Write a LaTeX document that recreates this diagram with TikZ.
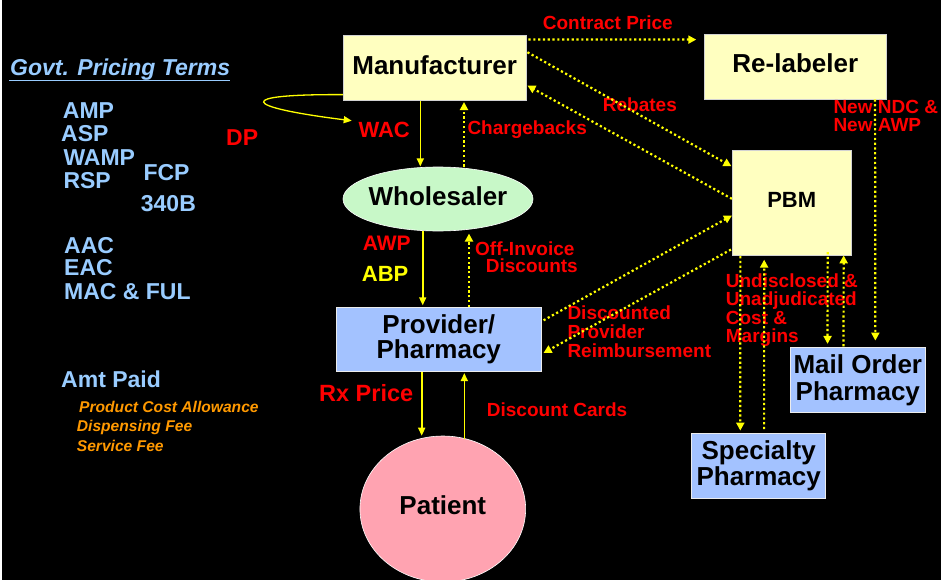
\documentclass[tikz,border=0pt]{standalone}
\usepackage{fontspec}
\setmainfont{Liberation Sans}
\usetikzlibrary{arrows.meta,calc,shapes.geometric}
\definecolor{boxyellow}{HTML}{FFFFC0}
\definecolor{whlgreen}{HTML}{C8F8C8}
\definecolor{provblue}{HTML}{A3C2FF}
\definecolor{patpink}{HTML}{FFA3B1}
\definecolor{termblue}{HTML}{99CCFF}
\definecolor{feeorange}{HTML}{FF9900}
\definecolor{flowyellow}{HTML}{FFFF00}
\definecolor{flowred}{HTML}{FF0000}
\begin{document}
\begin{tikzpicture}[x=1pt,y=-1pt,
  fs/.style={font=\fontsize{#1}{#1}\selectfont\bfseries},
  fsi/.style={font=\fontsize{#1}{#1}\selectfont\bfseries\itshape},
  box/.style={draw=gray!35, line width=0.8pt, fill=boxyellow, inner sep=0pt, align=center},
  bluebox/.style={box, fill=provblue, draw=white!85!gray},
  lbl/.style={anchor=base west, inner sep=0pt},
  mlbl/.style={anchor=north west, inner sep=0pt, align=left},
  term/.style={lbl, fs=23, text=termblue},
  redlbl/.style={lbl, fs=19, text=flowred},
  fee/.style={lbl, fsi=15.6, text=feeorange},
  flow/.style={draw=flowyellow, line width=1.6pt, -{Triangle[length=8pt,width=7pt]}},
  dotflow/.style={draw=flowyellow, line width=2.2pt, dash pattern=on 2.2pt off 2.6pt,
                  -{Triangle[length=8pt,width=8pt]}},
]
\useasboundingbox (0,0) rectangle (941,580);
\fill[white] (0,0) rectangle (2,580);
\fill[black] (2,0) rectangle (941,580);

% ---- left column: pricing terms ----
\node[lbl, fsi=23, text=termblue] (govt) at (10,76) {Govt. Pricing Terms};
\draw[termblue, line width=1.6pt] ($(govt.base west)+(-1,4.5)$) -- ($(govt.base east)+(0,4.5)$);
\node[term] (amp)  at (62.7,118.3) {AMP};
\node[term] (asp)  at (61,141.7)   {ASP};
\node[term] (wamp) at (63.3,165)   {WAMP};
\node[term] (rsp)  at (63.3,188.3) {RSP};
\node[term] (fcp)  at (143.3,180.7) {FCP};
\node[term] (b340) at (140.7,211.7) {340B};
\node[term] (aac)  at (64,253.3) {AAC};
\node[term] (eac)  at (64,275.7) {EAC};
\node[term] (macful) at (64,299) {MAC \& FUL};
\node[term] (amt)  at (61,387.3) {Amt Paid};
\node[fee] (pca)  at (79,412.7)   {Product Cost Allowance};
\node[fee] (disp) at (76.7,431.7) {Dispensing Fee};
\node[fee] (serv) at (76.7,451)   {Service Fee};

% ---- entities ----
\node[box, fs=26, minimum width=182.7pt, minimum height=65.7pt, text depth=6pt]
  (mfr) at (434.7,67.8) {Manufacturer};
\node[box, fs=26, minimum width=182.7pt, minimum height=65pt, text depth=6pt]
  (relab) at (795.3,66.5) {Re-labeler};
\node[box, fs=22, minimum width=118.7pt, minimum height=105.7pt, text depth=5pt]
  (pbm) at (791.7,202.8) {PBM};
\node[ellipse, draw=white, line width=0.6pt, fill=whlgreen, inner sep=0pt,
      minimum width=190pt, minimum height=64pt,
      label={[fs=26, text depth=5pt, inner sep=0pt]center:Wholesaler}]
  (whl) at (438,199) {};
\node[bluebox, font=\fontsize{26}{25}\selectfont\bfseries,
      minimum width=205.7pt, minimum height=64.4pt]
  (prov) at (438.8,339.5) {Provider/\\Pharmacy};
\node[bluebox, font=\fontsize{26}{26.7}\selectfont\bfseries,
      minimum width=134.3pt, minimum height=65.4pt]
  (mail) at (857.8,380) {Mail Order\\Pharmacy};
\node[bluebox, font=\fontsize{26}{26.7}\selectfont\bfseries,
      minimum width=134pt, minimum height=65pt]
  (spec) at (758.7,465.8) {Specialty\\Pharmacy};
\node[ellipse, draw=white, line width=0.6pt, fill=patpink, inner sep=0pt,
      minimum width=165.7pt, minimum height=146pt,
      label={[fs=26, text depth=7pt, inner sep=0pt]center:Patient}]
  (pat) at (442.8,509) {};

% ---- price and flow labels ----
\node[lbl, fs=23, text=flowred] (dp) at (226,146) {DP};
\node[lbl, fs=22, text=flowred] (wac) at (358.3,137.7) {WAC};
\node[redlbl] (charge) at (467.3,134.3) {Chargebacks};
\node[redlbl] (contract) at (542.7,29.3) {Contract Price};
\node[redlbl] (rebates) at (602.7,111.7) {Rebates};
\node[lbl, fs=21, text=flowred] (awp) at (362.7,250.7) {AWP};
\node[lbl, fs=22, text=flowyellow] (abp) at (361.7,281.7) {ABP};
\node[lbl, fs=23.5, text=flowred] (rx) at (319,401.7) {Rx Price};
\node[redlbl] (dcards) at (486.7,416.7) {Discount Cards};
\node[mlbl, font=\fontsize{19}{18}\selectfont\bfseries, text=flowred]
  (newndc) at (833.3,100.4) {New NDC \&\\New AWP};
\node[mlbl, font=\fontsize{19}{17.7}\selectfont\bfseries, text=flowred]
  (offinv) at (475,241.1) {Off-Invoice\\\hspace*{10.7pt}Discounts};
\node[mlbl, font=\fontsize{19}{18.7}\selectfont\bfseries, text=flowred]
  (discprov) at (567.3,305.7) {Discounted\\Provider\\Reimbursement};
\node[mlbl, font=\fontsize{19}{18.5}\selectfont\bfseries, text=flowred]
  (undisc) at (725.7,273.4) {Undisclosed \&\\Unadjudicated\\Cost \&\\Margins};

% ---- connectors ----
% list price loop back into WAC
\coordinate (wacin) at ($(wac.base west)+(-6.6,-17)$);
\draw[flow, line width=1.3pt] ($(mfr.south west)+(0,-6.4)$)
  .. controls (232,94) and (242,107) .. (wacin);
% product chain
\draw[flow] ($(mfr.south)+(-14.4,0)$) -- ($(whl.north)+(-17.7,-0.3)$);
\draw[dotflow] ($(whl.north)+(26,0)$) -- ($(mfr.south)+(29.3,1)$);
\draw[flow] ($(whl.south)+(-15.3,0)$) -- ($(prov.north)+(-16.1,-1.6)$);
\draw[dotflow] ($(prov.north)+(30.2,0)$) -- ($(whl.south)+(31,2.3)$);
\draw[flow] ($(prov.south)+(-17.1,0)$) -- ($(pat.north)+(-21.1,0)$);
\draw[flow] ($(pat.north)+(21.5,3.3)$) -- ($(prov.south)+(25.5,1)$);
% manufacturer to re-labeler and PBM
\draw[dotflow] ($(mfr.north east)+(2,5)$) -- ($(relab.north west)+(-7.3,6)$);
\draw[dotflow] ($(mfr.north east)+(1,17.7)$) -- ($(pbm.north west)+(-0.5,16.7)$);
\draw[dotflow] ($(pbm.north west)+(0,49.3)$) -- ($(mfr.north east)+(1,51)$);
% provider and PBM
\draw[dotflow] ($(prov.north east)+(1.5,13.4)$) -- ($(pbm.north west)+(0,66)$);
\draw[dotflow] ($(pbm.north west)+(-1,100)$) -- ($(prov.north east)+(1.5,46)$);
% PBM and its pharmacies
\draw[dotflow] ($(pbm.south west)+(8.4,0)$) -- ($(spec.north west)+(49,-2.3)$);
\draw[dotflow] ($(spec.north west)+(72.8,-3.8)$) -- ($(pbm.south west)+(32.2,3.6)$);
\draw[dotflow] ($(pbm.south west)+(95.7,-4)$) -- ($(mail.north west)+(37.3,-3)$);
\draw[dotflow] ($(mail.north west)+(53.3,-0.6)$) -- ($(pbm.south west)+(111.7,-0.7)$);
% re-labeler to mail order
\draw[dotflow] ($(relab.south west)+(171.5,0)$) -- ($(mail.north east)+(-50,-6.3)$);
\end{tikzpicture}
\end{document}
